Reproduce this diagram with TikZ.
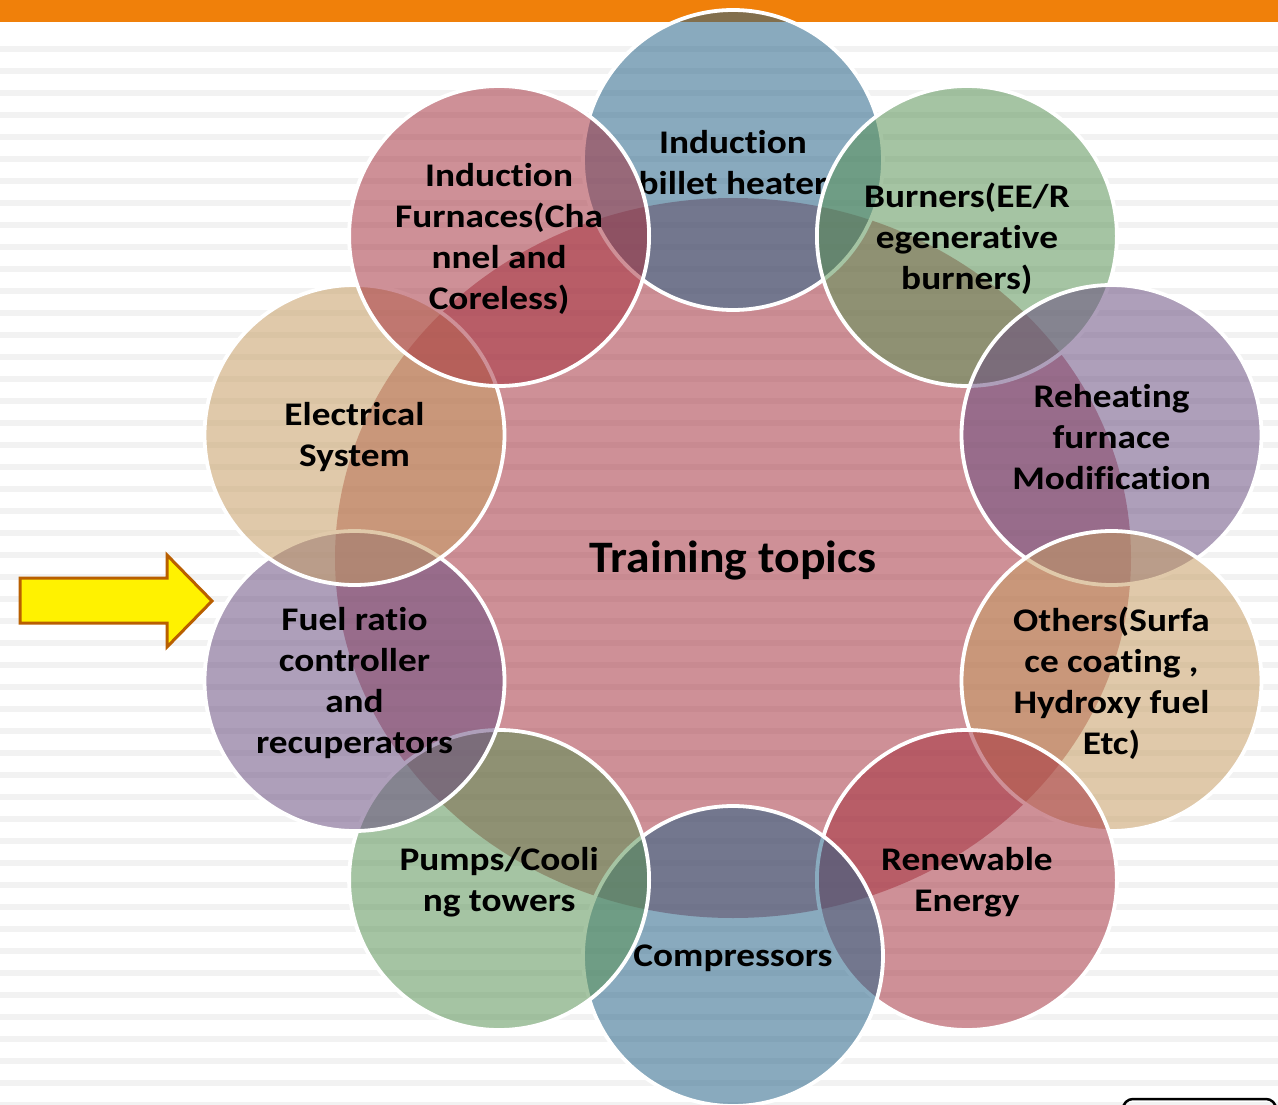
\documentclass[tikz,border=0pt]{standalone}
\usepackage{fontspec}
\setmainfont{Carlito}[Ligatures=NoCommon]
\newfontfamily\lblfam{Carlito}[FakeStretch=1.13, Ligatures=NoCommon]
\newfontfamily\titlefam{Carlito}[FakeStretch=1.06, Ligatures=NoCommon]
\usetikzlibrary{shapes.geometric}
\definecolor{obar}{RGB}{240,128,10}
\definecolor{stripe}{RGB}{242,242,242}
\definecolor{cred}{RGB}{166,51,64}
\definecolor{cblue}{RGB}{38,98,135}
\definecolor{cgreen}{RGB}{90,146,85}
\definecolor{cpurple}{RGB}{107,79,129}
\definecolor{ctan}{RGB}{198,157,98}
\definecolor{arrowline}{RGB}{185,95,0}
\newcommand\lblfont{\lblfam\fontsize{33}{41}\selectfont\bfseries}
\newcommand\titlefont{\titlefam\fontsize{45}{50}\selectfont\bfseries}
\begin{document}
\begin{tikzpicture}[x=1pt,y=-1pt,
  bub/.style={circle, draw=white, line width=3.8pt, minimum size=300pt, inner sep=0pt,
    fill opacity=0.54, draw opacity=1},
  lbl/.style={align=center, font=\lblfont, text=black, text opacity=1, fill opacity=1,
    inner sep=0pt, yshift=-2.5pt},
  hub/.style={ellipse, minimum width=796pt, minimum height=720pt, inner sep=0pt,
    fill=cred, fill opacity=0.54},
  stripeband/.style={fill=stripe},
  pointer/.style={fill=yellow, draw=arrowline, line width=3pt, line join=miter}]
\useasboundingbox (0,0) rectangle (1278,1105);
\clip (0,0) rectangle (1278,1105);
\fill[white] (0,0) rectangle (1278,1105);
\foreach \i in {0,...,48} \fill[stripeband] (0,46+22*\i) rectangle (1278,52+22*\i);
\fill[obar] (0,0) rectangle (1278,22);
% centre
\node[hub] (hub) at (733,558) {};
\node[font=\titlefont, text=black] (title) at (733,561) {Training topics};
% ring
\node[bub, fill=cblue, label={[lbl]center:{Induction\\billet heater}}] (billet) at (733,160) {};
\node[bub, fill=cgreen, label={[lbl]center:{Burners(EE/R\\egenerative\\burners)}}] (burn) at (966.9,236) {};
\node[bub, fill=cpurple, label={[lbl]center:{Reheating\\furnace\\Modification}}] (reheat) at (1111.5,435) {};
\node[bub, fill=ctan, label={[lbl]center:{Others(Surfa\\ce coating ,\\Hydroxy fuel\\Etc)}}] (others) at (1111.5,681) {};
\node[bub, fill=cred, label={[lbl]center:{Renewable\\Energy}}] (renew) at (966.9,880) {};
\node[bub, fill=cblue, label={[lbl]center:{Compressors}}] (comp) at (733,956) {};
\node[bub, fill=cgreen, label={[lbl]center:{Pumps/Cooli\\ng towers}}] (pumps) at (499.1,880) {};
\node[bub, fill=cpurple, label={[lbl]center:{Fuel ratio\\controller\\and\\recuperators}}] (fuel) at (354.5,681) {};
\node[bub, fill=ctan, label={[lbl]center:{Electrical\\System}}] (elec) at (354.5,435) {};
\node[bub, fill=cred, label={[lbl]center:{Induction\\Furnaces(Cha\\nnel and\\Coreless)}}] (furn) at (499.1,236) {};
% arrow
\draw[pointer] (20,578) -- (167,578) -- (167,555) -- (212,601) -- (167,647) -- (167,623) -- (20,623) -- cycle;
% partial box at bottom right
\draw[black, line width=2.5pt, rounded corners=10pt] (1123,1099) rectangle (1276,1150);
\end{tikzpicture}
\end{document}
